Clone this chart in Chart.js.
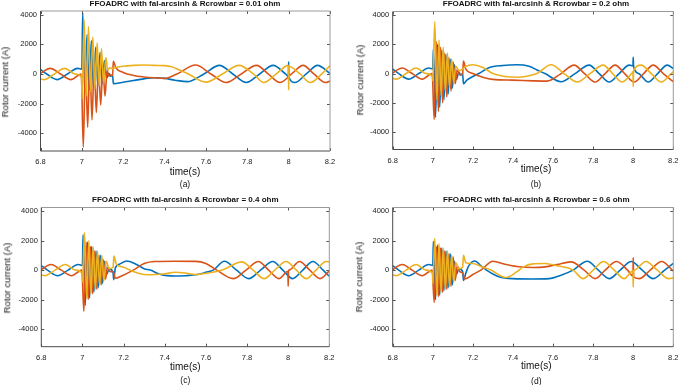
<!DOCTYPE html>
<html>
<head>
<meta charset="utf-8">
<script src="https://cdn.jsdelivr.net/npm/chart.js@4.4.1/dist/chart.umd.min.js"></script>
<style>
body { margin: 0; background: #fff; font-family: "Liberation Sans", Arial, sans-serif; }
#wrap { position: relative; width: 685px; height: 385px; overflow: hidden; }
canvas { position: absolute; }
.t { position: absolute; transform: translate(-50%, -50%); white-space: nowrap; color: #111; line-height: 1; }
.title { font-weight: bold; font-size: 8px; }
.xl { font-size: 10px; }
.yl { font-size: 9.5px; transform: translate(-50%, -50%) rotate(-90deg); }
.cap { font-size: 8.5px; }
</style>
</head>
<body>
<div id="wrap"></div>
<script>
// axis ticks
const xTicks = [6.8, 7, 7.2, 7.4, 7.6, 7.8, 8, 8.2];
const yTicks = [-4000, -2000, 0, 2000, 4000];

const titles = [
    'FFOADRC with fal-arcsinh & Rcrowbar = 0.01 ohm',
    'FFOADRC with fal-arcsinh & Rcrowbar = 0.2 ohm',
    'FFOADRC with fal-arcsinh & Rcrowbar = 0.4 ohm',
    'FFOADRC with fal-arcsinh & Rcrowbar = 0.6 ohm'
];
const captions = ['(a)', '(b)', '(c)', '(d)'];

// pre-fault part (same in all runs), [time, current]
const preBlue = [[6.8, 300], [6.83, 0], [6.88, -380], [6.93, 0], [6.98, 380], [7.0, 320]];
const preOrange = [[6.8, 40], [6.847, 380], [6.897, 0], [6.947, -380], [6.997, 0]];
const preYellow = [[6.8, -330], [6.817, -380], [6.867, 0], [6.917, 380], [6.967, 0], [6.999, -220]];

// Rcrowbar = 0.01
const blueA = [[7.004, 4150], [7.0145, -1300], [7.025, 2650], [7.0355, -1100], [7.046, 2250], [7.0565, -950],
    [7.067, 1800], [7.0775, -800], [7.088, 1450], [7.0985, -650], [7.109, 900], [7.12, -300], [7.13, 50],
    [7.14, -150], [7.149, -100], [7.152, -650], [7.2, -560], [7.25, -440], [7.3, -330], [7.35, -260],
    [7.4, -300], [7.45, -420], [7.51, -520], [7.59, 0], [7.665, 580], [7.73, 0], [7.795, -580], [7.86, 0],
    [7.925, 580], [7.985, 0], [7.999, -170], [8.0, 820], [8.002, -250], [8.03, -580], [8.085, 0],
    [8.14, 580], [8.2, 30]];
const orangeA = [[7.007, -4950], [7.0175, 1000], [7.028, -3600], [7.0385, 900], [7.049, -3100], [7.0595, 750],
    [7.07, -2600], [7.0805, 600], [7.091, -2100], [7.1015, 450], [7.112, -1500], [7.122, 250], [7.13, -150],
    [7.14, -50], [7.149, -100], [7.152, 850], [7.165, 400], [7.2, 100], [7.25, -100], [7.3, -200],
    [7.35, -260], [7.4, -300], [7.46, 0], [7.55, 600], [7.624, 0], [7.698, -580], [7.771, 0], [7.845, 580],
    [7.901, 0], [7.958, -580], [8.014, 0], [8.07, 580], [8.122, 0], [8.178, -580], [8.2, -480]];
const yellowA = [[7.001, -1700], [7.011, 3650], [7.021, -1500], [7.032, 3200], [7.042, -1200], [7.053, 2500],
    [7.063, -1000], [7.074, 2100], [7.084, -800], [7.095, 1700], [7.105, -600], [7.116, 1100], [7.125, 250],
    [7.135, 420], [7.149, 350], [7.155, 400], [7.2, 520], [7.25, 580], [7.3, 600], [7.35, 580], [7.4, 560],
    [7.43, 500], [7.47, 280], [7.515, 0], [7.6, -550], [7.68, 0], [7.76, 580], [7.83, 0], [7.88, -580],
    [7.94, 0], [7.999, 580], [8.0, -1080], [8.002, 500], [8.055, 0], [8.105, -580], [8.16, 0], [8.2, 560]];

// Rcrowbar = 0.2
const blueB = [[7.003, 1700], [7.0135, -3000], [7.024, 2000], [7.0345, -2300], [7.045, 1600], [7.0555, -1800],
    [7.066, 1300], [7.0765, -1400], [7.087, 1000], [7.0975, -1000], [7.108, 600], [7.118, -400], [7.13, 100],
    [7.14, -100], [7.149, 0], [7.153, -700], [7.17, -450], [7.2, -200], [7.23, 0], [7.28, 400], [7.35, 550],
    [7.42, 600], [7.48, 500], [7.52, 250], [7.56, 0], [7.64, -560], [7.71, 0], [7.78, 580], [7.83, 0],
    [7.88, -580], [7.93, 0], [7.98, 580], [7.999, 520], [8.0, 1120], [8.002, 480], [8.027, 0], [8.075, -580],
    [8.122, 0], [8.17, 580], [8.2, 340]];
const orangeB = [[7.007, -3150], [7.0175, 2200], [7.028, -2600], [7.0385, 1800], [7.049, -2000], [7.0595, 1400],
    [7.07, -1600], [7.0805, 1100], [7.091, -1200], [7.1015, 800], [7.112, -700], [7.122, 300], [7.135, -100],
    [7.149, 0], [7.153, 850], [7.165, 300], [7.2, 0], [7.25, -250], [7.3, -400], [7.4, -450], [7.5, -500],
    [7.57, -520], [7.64, 0], [7.705, 580], [7.757, 0], [7.81, -580], [7.86, 0], [7.91, 580], [7.957, 0],
    [8.005, -580], [8.052, 0], [8.1, 580], [8.15, 0], [8.2, -560]];
const yellowB = [[7.0, -500], [7.01, 3550], [7.0205, -1800], [7.031, 2300], [7.0415, -1500], [7.052, 1800],
    [7.0625, -1200], [7.073, 1400], [7.0835, -900], [7.094, 1000], [7.1045, -600], [7.115, 500], [7.13, 200],
    [7.149, 300], [7.16, 450], [7.2, 600], [7.25, 420], [7.3, 0], [7.36, -200], [7.42, -250], [7.47, -180],
    [7.52, 0], [7.59, 600], [7.655, 0], [7.72, -580], [7.785, 0], [7.85, 580], [7.897, 0], [7.945, -580],
    [7.992, 0], [7.999, 120], [8.0, -900], [8.002, 200], [8.04, 580], [8.09, 0], [8.14, -580], [8.19, 0],
    [8.2, 120]];

// Rcrowbar = 0.4
const blueC = [[7.003, 2400], [7.0135, -2400], [7.024, 1900], [7.0345, -1900], [7.045, 1600], [7.0555, -1500],
    [7.066, 1300], [7.0765, -1200], [7.087, 1000], [7.0975, -900], [7.108, 600], [7.118, -300], [7.13, 100],
    [7.149, -200], [7.152, -650], [7.16, 150], [7.18, 400], [7.215, 620], [7.26, 400], [7.3, 100], [7.33, 0],
    [7.38, -300], [7.45, -400], [7.5, -380], [7.56, -300], [7.6, -150], [7.636, 0], [7.69, 600], [7.749, 0],
    [7.808, -580], [7.866, 0], [7.925, 580], [7.974, 0], [8.022, -580], [8.071, 0], [8.12, 580], [8.17, 0],
    [8.2, -420]];
const orangeC = [[7.007, -2800], [7.0175, 1900], [7.028, -2000], [7.0385, 1600], [7.049, -1600], [7.0595, 1300],
    [7.07, -1300], [7.0805, 1000], [7.091, -1000], [7.1015, 700], [7.112, -600], [7.122, 200], [7.135, -100],
    [7.149, -100], [7.16, -550], [7.19, -400], [7.247, 0], [7.3, 450], [7.35, 580], [7.45, 600], [7.55, 590],
    [7.6, 450], [7.653, 0], [7.733, -580], [7.795, 0], [7.855, 580], [7.905, 0], [7.955, -580], [7.999, -80],
    [8.0, -1100], [8.002, -40], [8.005, 0], [8.055, 580], [8.105, 0], [8.155, -580], [8.2, -50]];
const yellowC = [[7.0, -800], [7.01, 2550], [7.0205, -1900], [7.031, 2000], [7.0415, -1600], [7.052, 1600],
    [7.0625, -1300], [7.073, 1300], [7.0835, -1000], [7.094, 1000], [7.1045, -700], [7.115, 600], [7.13, 100],
    [7.149, 200], [7.153, 950], [7.165, 400], [7.2, 200], [7.231, 0], [7.28, -250], [7.32, -320], [7.4, -250],
    [7.45, -150], [7.5, -200], [7.55, -300], [7.6, -220], [7.68, 0], [7.775, 560], [7.83, 0], [7.883, -580],
    [7.935, 0], [7.99, 580], [8.04, 0], [8.088, -580], [8.135, 0], [8.185, 580], [8.2, 560]];

// Rcrowbar = 0.6
const blueD = [[7.003, 1950], [7.0135, -2000], [7.024, 1700], [7.0345, -1700], [7.045, 1500], [7.0555, -1400],
    [7.066, 1300], [7.0765, -1200], [7.087, 1100], [7.0975, -1000], [7.108, 600], [7.118, -300], [7.13, 100],
    [7.149, -100], [7.153, -700], [7.165, -200], [7.18, 300], [7.21, 620], [7.24, 300], [7.268, 0],
    [7.33, -450], [7.4, -580], [7.5, -600], [7.58, -580], [7.64, -350], [7.7, 0], [7.771, 600], [7.826, 0],
    [7.88, -580], [7.935, 0], [7.99, 580], [8.045, 0], [8.1, -580], [8.157, 0], [8.2, 450]];
const orangeD = [[7.007, -2200], [7.0175, 1600], [7.028, -1800], [7.0385, 1500], [7.049, -1500], [7.0595, 1300],
    [7.07, -1300], [7.0805, 1100], [7.091, -1100], [7.1015, 900], [7.112, -700], [7.122, 300], [7.135, -100],
    [7.149, -200], [7.16, -600], [7.2, -300], [7.24, 0], [7.3, 600], [7.36, 400], [7.42, 250], [7.5, 180],
    [7.56, 220], [7.62, 380], [7.69, 560], [7.755, 0], [7.81, -580], [7.86, 0], [7.917, 580], [7.972, 0],
    [7.999, -400], [8.0, 850], [8.002, -450], [8.03, -580], [8.085, 0], [8.142, 580], [8.195, 0], [8.2, -60]];
const yellowD = [[7.0, -900], [7.01, 2150], [7.0205, -1700], [7.031, 1800], [7.0415, -1500], [7.052, 1500],
    [7.0625, -1300], [7.073, 1300], [7.0835, -1100], [7.094, 1000], [7.1045, -800], [7.115, 500], [7.13, 100],
    [7.149, 200], [7.153, 1000], [7.165, 500], [7.2, 450], [7.25, 200], [7.29, 0], [7.365, -500], [7.42, -100],
    [7.45, 200], [7.5, 420], [7.56, 450], [7.62, 300], [7.7, 0], [7.75, -580], [7.8, 0], [7.852, 580],
    [7.905, 0], [7.955, -580], [7.999, -50], [8.0, -1150], [8.002, -20], [8.005, 0], [8.063, 580], [8.12, 0],
    [8.178, -580], [8.2, -530]];

const runs = [
    [blueA, orangeA, yellowA],
    [blueB, orangeB, yellowB],
    [blueC, orangeC, yellowC],
    [blueD, orangeD, yellowD]
];

// canvas box and plot area (relative to canvas) for each panel
const panels = [
    { left: 0, top: 0, w: 345, h: 190, L: 40.5, T: 11, R: 330, B: 151, tx: 185, ty: 3.5, yx: 4.5, yy: 82, xy: 172, cy: 183.5 },
    { left: 345, top: 0, w: 340, h: 190, L: 47.7, T: 11.5, R: 335, B: 149.5, tx: 536, ty: 4, yx: 360, yy: 80, xy: 168.5, cy: 183.5 },
    { left: 0, top: 192, w: 345, h: 193, L: 41.3, T: 15.5, R: 329.3, B: 154.7, tx: 185.3, ty: 200, yx: 7.3, yy: 278, xy: 366.5, cy: 380 },
    { left: 345, top: 192, w: 340, h: 193, L: 47.7, T: 15.5, R: 335, B: 154.7, tx: 536.3, ty: 200, yx: 359, yy: 277, xy: 366, cy: 380.5 }
];

const colors = ['#0072BD', '#D95319', '#EDB120'];
const pre = [preBlue, preOrange, preYellow];

Chart.defaults.font.family = '"Liberation Sans", Arial, sans-serif';
Chart.defaults.color = '#1a1a1a';

const framePlugin = {
    id: 'frame',
    afterDraw(chart) {
        const { ctx, chartArea: a, scales: { x, y } } = chart;
        ctx.save();
        ctx.lineWidth = 1;
        ctx.strokeStyle = '#555';
        ctx.beginPath();
        xTicks.forEach(v => {
            const px = Math.round(x.getPixelForValue(v)) + 0.5;
            ctx.moveTo(px, a.bottom); ctx.lineTo(px, a.bottom - 3);
            ctx.moveTo(px, a.top); ctx.lineTo(px, a.top + 3);
        });
        yTicks.forEach(v => {
            const py = Math.round(y.getPixelForValue(v)) + 0.5;
            ctx.moveTo(a.left, py); ctx.lineTo(a.left + 3, py);
            ctx.moveTo(a.right, py); ctx.lineTo(a.right - 3, py);
        });
        ctx.stroke();
        // MATLAB style box
        ctx.strokeStyle = '#4a4a4a';
        ctx.beginPath();
        ctx.moveTo(a.left, a.top); ctx.lineTo(a.left, a.bottom); ctx.lineTo(a.right, a.bottom);
        ctx.stroke();
        ctx.strokeStyle = '#9a9a9a';
        ctx.beginPath();
        ctx.moveTo(a.left, a.top); ctx.lineTo(a.right, a.top); ctx.lineTo(a.right, a.bottom);
        ctx.stroke();
        ctx.restore();
    }
};

const wrap = document.getElementById('wrap');

function addText(cls, text, x, y) {
    const el = document.createElement('div');
    el.className = 't ' + cls;
    el.textContent = text;
    el.style.left = x + 'px';
    el.style.top = y + 'px';
    wrap.appendChild(el);
}

panels.forEach((p, i) => {
    const canvas = document.createElement('canvas');
    canvas.width = p.w;
    canvas.height = p.h;
    canvas.style.left = p.left + 'px';
    canvas.style.top = p.top + 'px';
    wrap.appendChild(canvas);

    const datasets = runs[i].map((series, k) => ({
        data: pre[k].concat(series).map(d => ({ x: d[0], y: d[1] })),
        borderColor: colors[k],
        borderWidth: 1.6,
        pointRadius: 0,
        cubicInterpolationMode: 'monotone',
        order: 3 - k
    }));

    new Chart(canvas, {
        type: 'line',
        data: { datasets },
        options: {
            responsive: false,
            animation: false,
            events: [],
            layout: { autoPadding: false, padding: { left: 0, top: p.T, right: p.w - p.R, bottom: 0 } },
            plugins: { legend: { display: false }, tooltip: { enabled: false } },
            scales: {
                x: {
                    type: 'linear', min: 6.8, max: 8.2,
                    grid: { display: false, drawTicks: false }, border: { display: false },
                    afterBuildTicks: s => { s.ticks = xTicks.map(v => ({ value: v })); },
                    afterFit: s => { s.height = p.h - p.B; },
                    ticks: {
                        font: { size: 7.5 }, padding: 6.5, maxRotation: 0, autoSkip: false,
                        callback: v => String(Math.round(v * 10) / 10)
                    }
                },
                y: {
                    type: 'linear', min: -5200, max: 4250,
                    grid: { display: false, drawTicks: false }, border: { display: false },
                    afterBuildTicks: s => { s.ticks = yTicks.map(v => ({ value: v })); },
                    afterFit: s => { s.width = p.L; },
                    ticks: { font: { size: 7.5 }, padding: 3.5, callback: v => String(v) }
                }
            }
        },
        plugins: [framePlugin]
    });

    addText('title', titles[i], p.tx, p.ty);
    addText('yl', 'Rotor current (A)', p.yx, p.yy);
    addText('xl', 'time(s)', p.tx, p.xy);
    addText('cap', captions[i], p.tx, p.cy);
});
</script>
</body>
</html>
